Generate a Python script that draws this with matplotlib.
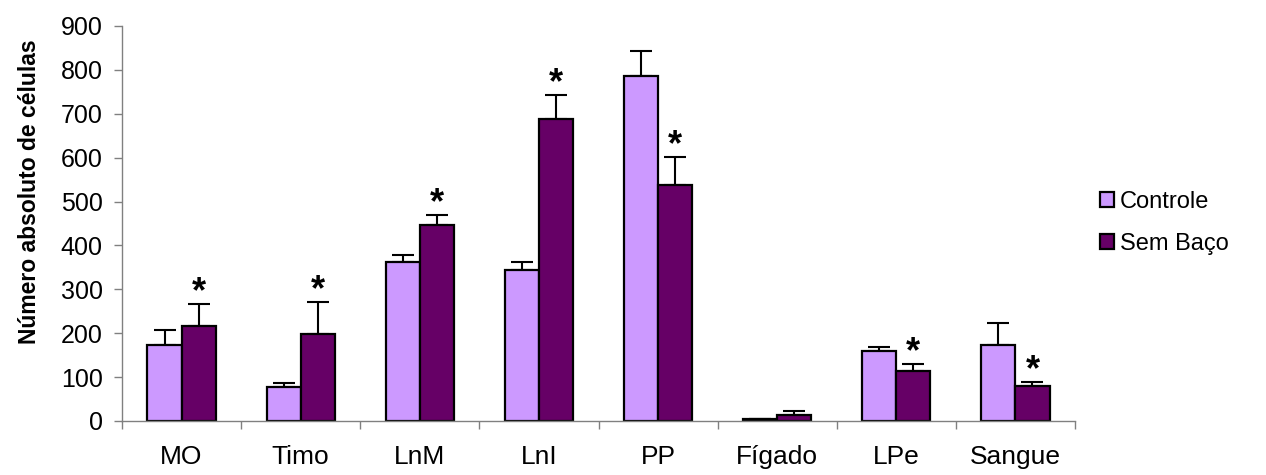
import matplotlib
matplotlib.use("Agg")
import matplotlib.pyplot as plt
import numpy as np
from matplotlib.ticker import FixedLocator, NullFormatter, FixedFormatter

categories = ["MO", "Timo", "LnM", "LnI", "PP", "Fígado", "LPe", "Sangue"]
controle = [173, 77, 363, 344, 785, 5, 159, 173]
controle_err = [34, 9, 15, 19, 59, 0, 10, 50]
sem_baco = [216, 198, 446, 688, 538, 14, 115, 80]
sem_baco_err = [50, 73, 24, 54, 63, 9, 14, 8]
signif = [True, True, True, True, True, False, True, True]

plt.rcParams['font.family'] = ['Liberation Sans', 'DejaVu Sans']

fig = plt.figure(figsize=(12.66, 4.75), dpi=100)
ax = fig.add_axes([122/1266, 1-421/475, (1075-122)/1266, (421-26)/475])

x = np.arange(len(categories))
w = 0.286
b1 = ax.bar(x - w/2, controle, w, color="#CC99FF", edgecolor="black", linewidth=1.6,
            label="Controle", zorder=2)
b2 = ax.bar(x + w/2, sem_baco, w, color="#660066", edgecolor="black", linewidth=1.6,
            label="Sem Baço", zorder=2)
ax.errorbar(x - w/2, controle, yerr=[np.zeros(len(x)), controle_err], fmt="none",
            ecolor="black", elinewidth=1.5, capsize=8, capthick=1.5, zorder=1)
ax.errorbar(x + w/2, sem_baco, yerr=[np.zeros(len(x)), sem_baco_err], fmt="none",
            ecolor="black", elinewidth=1.5, capsize=8, capthick=1.5, zorder=1)

for xi, v, e, s in zip(x, sem_baco, sem_baco_err, signif):
    if s:
        ax.annotate("*", xy=(xi + w/2, v + e), xytext=(0, -6), textcoords="offset pixels",
                    ha="center", va="bottom", fontsize=26, fontweight="bold")

ax.set_xlim(-0.5, len(categories) - 0.5)
ax.set_ylim(0, 900)
ax.set_yticks(np.arange(0, 901, 100))
ax.tick_params(axis="y", direction="out", length=6, width=1, color="#808080",
               labelsize=18, pad=8)
ax.xaxis.set_major_locator(FixedLocator(np.arange(-0.5, len(categories), 1.0)))
ax.xaxis.set_major_formatter(NullFormatter())
ax.xaxis.set_minor_locator(FixedLocator(x))
ax.xaxis.set_minor_formatter(FixedFormatter(categories))
ax.tick_params(axis="x", which="major", direction="out", length=6, width=1, color="#808080")
ax.tick_params(axis="x", which="minor", length=0, labelsize=19, pad=17)

for sp in ["top", "right"]:
    ax.spines[sp].set_visible(False)
for sp in ["left", "bottom"]:
    ax.spines[sp].set_color("#808080")
    ax.spines[sp].set_linewidth(1)

ax.set_ylabel("Número absoluto de células", fontsize=16.5, fontweight="bold")
ax.yaxis.set_label_coords(-0.085, 0.58)

leg = fig.legend(handles=[b1, b2], labels=["Controle", "Sem Baço"], loc="center left",
                 bbox_to_anchor=(1100/1266, 1-223/475), frameon=False, fontsize=17,
                 handlelength=0.6, handleheight=0.6, handletextpad=0.25,
                 labelspacing=0.85, borderpad=0, borderaxespad=0)

fig.savefig("out.png", dpi=100)
